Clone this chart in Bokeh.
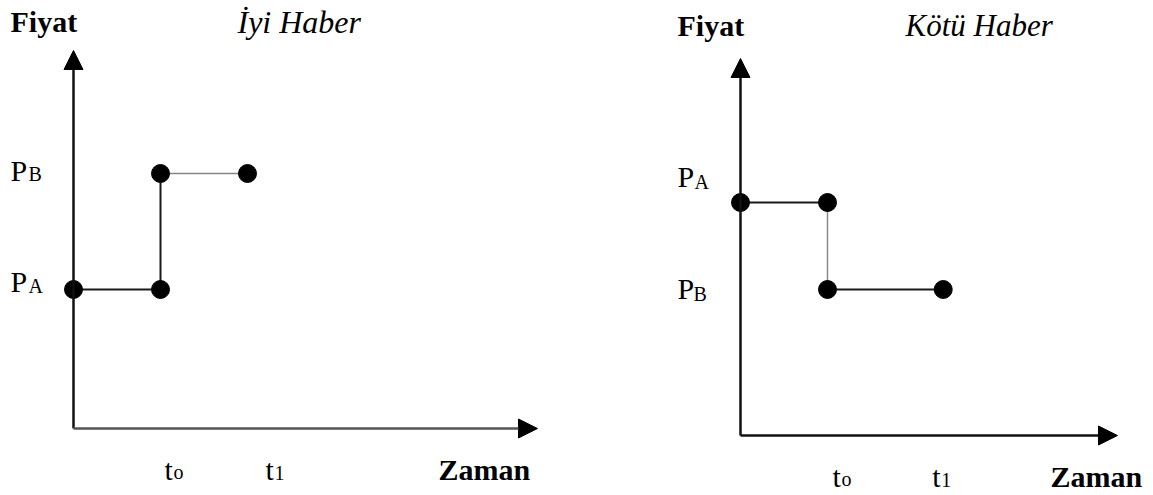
from bokeh.plotting import figure
from bokeh.layouts import row
from bokeh.models import Arrow, NormalHead, Label, Range1d, ColumnDataSource
from bokeh.embed import file_html
from bokeh.resources import INLINE

# ---------------- data (time in t-units, price in price-units) ----------------
good_time = [0.0, 1.0, 1.0, 2.0]          # origin, t0, t0, t1
good_price = [1.39, 1.39, 2.55, 2.55]     # PA, PA, PB, PB
good_price_names = ["A", "B"]            # subscripts of P at PA / PB
bad_time = [0.0, 1.0, 1.0, 2.33]
bad_price = [2.33, 2.33, 1.46, 1.46]      # PA, PA, PB, PB
bad_price_names = ["A", "B"]
tick_subscripts = ["o", "1"]
titles = ["İyi Haber", "Kötü Haber"]
y_title = "Fiyat"
x_title = "Zaman"

XU = 87.0   # px per time unit
YU = 100.0  # px per price unit
H = 495
SERIF = "Liberation Serif"
TEXT_DY = 12  # baseline correction (px, upwards)


def make_panel(width, ox_px, oy_px_bottom, time, price, seg_colors, seg_widths,
               xaxis_color, xtip, ytip, title, tx, labs):
    p = figure(width=width, height=H, output_backend="svg", toolbar_location=None,
               x_axis_type=None, y_axis_type=None, min_border=0,
               x_range=Range1d(-ox_px / XU, (width - ox_px) / XU),
               y_range=Range1d(-oy_px_bottom / YU, (H - oy_px_bottom) / YU))
    p.grid.visible = False
    p.outline_line_color = None
    p.background_fill_color = "white"
    p.border_fill_color = "white"

    # axes with arrow heads
    p.add_layout(Arrow(x_start=0, y_start=0, x_end=0, y_end=ytip,
                       line_color="#111111", line_width=2.5,
                       end=NormalHead(size=19, fill_color="black", line_color="black", line_width=1)))
    p.add_layout(Arrow(x_start=0, y_start=0, x_end=xtip, y_end=0,
                       line_color=xaxis_color, line_width=2.5,
                       end=NormalHead(size=19, fill_color="black", line_color="black", line_width=1)))

    # step path
    src = ColumnDataSource(dict(x0=time[:-1], y0=price[:-1], x1=time[1:], y1=price[1:],
                                c=seg_colors, w=seg_widths))
    p.segment(x0="x0", y0="y0", x1="x1", y1="y1", line_color="c", line_width="w", source=src)
    p.scatter(time, price, size=18, color="black")

    def lab(x, y, text, size, style="normal"):
        p.add_layout(Label(x=x, y=y + TEXT_DY / YU, text=text, text_font=SERIF,
                           text_font_size=f"{size}px",
                           text_font_style=style, text_color="black",
                           text_baseline="alphabetic", text_align="left"))

    # titles
    lab(-63 / XU, tx[0] / YU, y_title, 30, "bold")
    lab(tx[1] / XU, tx[0] / YU, title, tx[3], "italic")
    lab(tx[2] / XU, -53 / YU, x_title, 30, "bold")

    # price labels
    pa, pb = price[0], price[-1]
    for pv, name, (dyP, dxS, dyS) in zip([pa, pb], ["A", "B"], labs["P"]):
        lab(-63 / XU, pv + dyP / YU, "P", 30)
        lab(dxS / XU, pv + dyS / YU, name, 20)

    # time tick labels
    t0, t1 = time[1], time[-1]
    for tv, sub, (dxT, dxS, dyS) in zip([t0, t1], tick_subscripts, labs["t"]):
        lab(tv + dxT / XU, -53 / YU, "t", 30)
        lab(tv + dxS / XU, dyS / YU, sub, 20)
    return p


left = make_panel(584, 73, 67, good_time, good_price,
                  ["#1a1a1a", "#1a1a1a", "#858585"], [2, 2, 1.5], "#555555",
                  5.333, 3.78, titles[0], (395, 164, 365, 32),
                  {"P": [(-4, -45, -8), (-9, -45, -12)],
                   "t": [(4, 13, -55), (18, 27, -56)]})

right = make_panel(569, 156, 60, bad_time, bad_price,
                   ["#1a1a1a", "#8a8a8a", "#1a1a1a"], [2, 1.5, 2], "#111111",
                   4.333, 3.77, titles[1], (398, 165, 310, 31),
                   {"P": [(14, -46, 9), (-11, -47, -16)],
                    "t": [(5, 14, -55), (-11, -2, -56)]})

layout = row(left, right)
open("out.html", "w").write(file_html(layout, INLINE))
